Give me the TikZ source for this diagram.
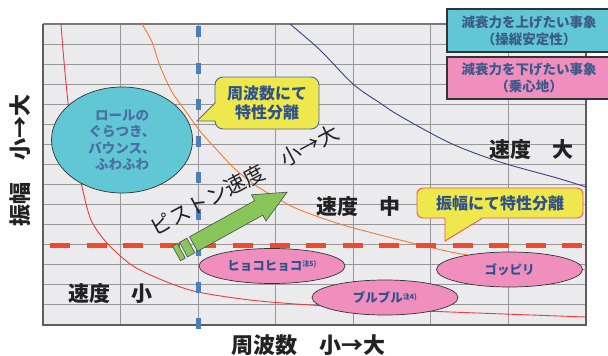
\documentclass[tikz,border=0pt]{standalone}
\usepackage{fontspec}
\setmainfont{Noto Sans CJK JP}
\usetikzlibrary{shapes.geometric}
\definecolor{plotbg}{HTML}{EBEBEE}
\definecolor{gridgray}{HTML}{979797}
\definecolor{framegray}{HTML}{5E5E5E}
\definecolor{reddash}{HTML}{F04A2E}
\definecolor{bluedash}{HTML}{4E7EB8}
\definecolor{curvered}{HTML}{F23A3A}
\definecolor{curveorange}{HTML}{F57A32}
\definecolor{curvenavy}{HTML}{3E3E86}
\definecolor{cyanfill}{HTML}{62C7D4}
\definecolor{pinkfill}{HTML}{F08FBE}
\definecolor{callyellow}{HTML}{EEE84C}
\definecolor{callborder}{HTML}{4A6A9A}
\definecolor{callorange}{HTML}{EC5A3A}
\definecolor{arrowgreen}{HTML}{88C55B}
\definecolor{textblue}{HTML}{2F528C}
\definecolor{ellblue}{HTML}{4A6FA6}
\definecolor{legblue}{HTML}{3A5A8A}
\definecolor{darktext}{HTML}{222222}
\begin{document}
\begin{tikzpicture}[x=1pt,y=-1pt,
  gridline/.style={draw=gridgray, line width=1.1pt},
  curve/.style={line width=0.9pt},
  reddashed/.style={draw=reddash, line width=5pt, dash pattern=on 20pt off 16.6pt},
  bluedashed/.style={draw=bluedash, line width=5pt, dash pattern=on 11pt off 25.5pt},
  cyanell/.style={ellipse, fill=cyanfill, draw=black!80, line width=0.7pt, inner sep=0pt,
     minimum width=141pt, minimum height=106pt, text=ellblue, font=\bfseries\fontsize{13.5}{16.5}\selectfont, align=center},
  pinkell/.style={ellipse, fill=pinkfill, draw=black!80, line width=0.7pt, inner sep=0pt,
     minimum width=146pt, minimum height=35pt, text=textblue, font=\bfseries\fontsize{12.5}{14}\selectfont},
  callone/.style={fill=callyellow, draw=callborder, line width=0.9pt},
  calltwo/.style={fill=callyellow, draw=callorange, line width=0.9pt},
  calltext/.style={text=textblue, font=\bfseries\fontsize{16}{19}\selectfont, align=center},
  speedlabel/.style={text=darktext, font=\bfseries\fontsize{21}{24}\selectfont},
  axislabel/.style={text=darktext, font=\bfseries\fontsize{22}{24}\selectfont},
  arrowpart/.style={fill=arrowgreen, draw=black!70, line width=0.6pt},
  legbox/.style={draw=black!80, line width=1.1pt},
  legtext/.style={text=legblue, font=\bfseries\fontsize{13.5}{17}\selectfont, align=center}
]
\useasboundingbox (0,0) rectangle (608,356);
% plot background
\fill[plotbg] (43,24) rectangle (586,325);
% grid
\foreach \i in {1,...,6} { \draw[gridline] ({43+\i*77.571},24) -- ({43+\i*77.571},325); }
\foreach \j in {1,...,14} { \draw[gridline] (43,{24+\j*20.067}) -- (586,{24+\j*20.067}); }
% frame
\draw[draw=gridgray!80!black, line width=1.2pt] (43,24) -- (586,24);
\draw[draw=framegray, line width=1.5pt] (586,24) -- (586,325);
\draw[draw=framegray, line width=2pt] (43,23.5) -- (43,325) -- (586.7,325);
% curves
\draw[curve, draw=curvered] plot[smooth] coordinates {(61,24) (63,50) (66,83) (70,120) (76,160) (82,187) (91,220) (107,243) (133,266) (167,282) (198,292) (250,300) (310,305) (400,310) (586,317)};
\draw[curve, draw=curveorange] plot[smooth] coordinates {(142,24) (152,42) (160,66) (172,92) (187,113) (200,131) (217,150) (235,169) (255,185) (280,200) (300,210) (343,225) (400,240) (433,248) (467,255) (520,262) (586,270)};
\draw[curve, draw=curvenavy] plot[smooth] coordinates {(290,24) (320,50) (353,84) (380,103) (400,116) (450,143) (500,162) (557,178) (586,187)};
% dashed lines
\coordinate (rdA) at (50,245);
\coordinate (rdB) at (586,245);
\coordinate (bdA) at (198,26);
\coordinate (bdB) at (198,329);
\draw[reddashed] (rdA) -- (rdB);
\draw[bluedashed] (bdA) -- (bdB);
% ellipses
\node[cyanell] (roll) at (122,140) {ロールの\\ぐらつき、\\バウンス、\\ふわふわ};
\node[pinkell] (hyoko) at (272,266) {ヒョコヒョコ\raisebox{3.5pt}{\fontsize{7}{8}\selectfont 注5)}};
\node[pinkell] (buru) at (385,297.5) {ブルブル\raisebox{3.5pt}{\fontsize{7}{8}\selectfont 注4)}};
\node[pinkell] (goppiri) at (509.5,269.5) {ゴッピリ};
% green arrow
\begin{scope}[shift={(176.5,253.5)}, rotate=29]
  \filldraw[arrowpart] (0,-8.3) rectangle (5.5,8.3);
  \filldraw[arrowpart] (8,-8.3) rectangle (16.5,8.3);
  \filldraw[arrowpart] (19.5,-8.3) -- (94,-8.3) -- (94,-15) -- (126.5,0) -- (94,15) -- (94,8.3) -- (19.5,8.3) -- cycle;
\end{scope}
% callout 1
\draw[callone, rounded corners=8pt] (215,77) rectangle (319,129);
\fill[callyellow] (216,102.5) -- (197,121) -- (216,121) -- cycle;
\draw[callone, fill=none] (215.4,102.5) -- (197,121) -- (215.4,121);
\node[calltext] (callA) at (267,103) {周波数にて\\特性分離};
% callout 2
\draw[calltwo, rounded corners=6pt] (417,188) rectangle (583,218);
\fill[callyellow] (445,217) -- (445,241) -- (482,217) -- cycle;
\draw[calltwo, fill=none] (445,218.4) -- (445,241) -- (482,218.4);
\node[calltext] (callB) at (500,203.5) {振幅にて特性分離};
% speed labels
\node[speedlabel] (vbig) at (531,150) {速度　大};
\node[speedlabel] (vmid) at (358,207) {速度　中};
\node[speedlabel] (vsmall) at (110,294) {速度　小};
% piston label
\node[text=darktext, font=\fontsize{21}{24}\selectfont, rotate=28, inner sep=0pt] (piston) at (244.5,180) {ピストン速度　小→大};
% axis labels
\node[axislabel] (xlab) at (308.5,345) {周波数　小→大};
\node[axislabel, rotate=90] (ylab) at (20,160) {振幅　小→大};
% legend
\fill[cyanfill] (447,9) rectangle (608,52);
\draw[legbox] (609,9) -- (447,9) -- (447,52) -- (609,52);
\node[legtext] (legA) at (529,30.5) {減衰力を上げたい事象\\（操縦安定性）};
\fill[pinkfill] (447,57) rectangle (608,99);
\draw[legbox] (609,57) -- (447,57) -- (447,99) -- (609,99);
\node[legtext] (legB) at (529,78) {減衰力を下げたい事象\\（乗心地）};
\end{tikzpicture}
\end{document}
